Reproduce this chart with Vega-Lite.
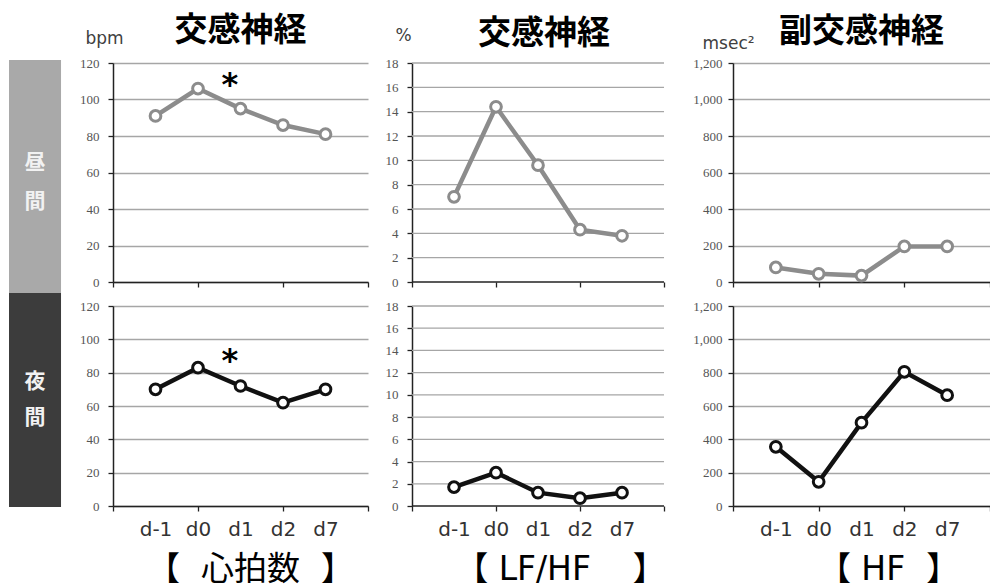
{
  "$schema": "https://vega.github.io/schema/vega-lite/v6.json",
  "padding": {"left": 9, "top": 15, "right": 0, "bottom": 0},
  "autosize": {"type": "pad"},
  "background": "white",
  "config": {
    "view": {"stroke": null},
    "font": "DejaVu Sans",
    "axis": {"domainColor": "#222", "domainWidth": 1.5, "tickColor": "#222", "tickWidth": 1.3, "tickSize": 5, "gridColor": "#a6a6a6", "gridWidth": 1.3, "labelOverlap": false, "tickCount": 30},
    "axisY": {"labelFont": "Liberation Serif", "labelFontSize": 13, "labelColor": "#555", "labelPadding": 9, "titleFont": "DejaVu Sans", "titleFontSize": 17, "titleFontWeight": "normal", "titleColor": "#404040", "titleAngle": 0, "titleAlign": "left", "titleBaseline": "middle"},
    "axisX": {"labelFont": "DejaVu Sans", "labelFontSize": 20, "labelColor": "#333", "labelPadding": 8, "grid": false, "labelFlush": false, "titleFont": "DejaVu Sans, Noto Sans CJK JP", "titleFontSize": 33, "titleFontWeight": "normal", "titleColor": "#000", "titlePadding": 14, "titleAlign": "center"},
    "title": {"font": "Noto Sans CJK JP", "fontSize": 33, "fontWeight": "bold", "color": "#000", "anchor": "middle", "baseline": "alphabetic", "frame": "group"}
  },
  "datasets": {
    "d": [
      {"m": "hr", "p": "day", "t": 1, "day": "d-1", "v": 91},
      {"m": "hr", "p": "day", "t": 2, "day": "d0", "v": 106},
      {"m": "hr", "p": "day", "t": 3, "day": "d1", "v": 95},
      {"m": "hr", "p": "day", "t": 4, "day": "d2", "v": 86},
      {"m": "hr", "p": "day", "t": 5, "day": "d7", "v": 81},
      {"m": "hr", "p": "night", "t": 1, "day": "d-1", "v": 70},
      {"m": "hr", "p": "night", "t": 2, "day": "d0", "v": 83},
      {"m": "hr", "p": "night", "t": 3, "day": "d1", "v": 72},
      {"m": "hr", "p": "night", "t": 4, "day": "d2", "v": 62},
      {"m": "hr", "p": "night", "t": 5, "day": "d7", "v": 70},
      {"m": "lf", "p": "day", "t": 1, "day": "d-1", "v": 7.0},
      {"m": "lf", "p": "day", "t": 2, "day": "d0", "v": 14.4},
      {"m": "lf", "p": "day", "t": 3, "day": "d1", "v": 9.6},
      {"m": "lf", "p": "day", "t": 4, "day": "d2", "v": 4.3},
      {"m": "lf", "p": "day", "t": 5, "day": "d7", "v": 3.8},
      {"m": "lf", "p": "night", "t": 1, "day": "d-1", "v": 1.7},
      {"m": "lf", "p": "night", "t": 2, "day": "d0", "v": 3.0},
      {"m": "lf", "p": "night", "t": 3, "day": "d1", "v": 1.2},
      {"m": "lf", "p": "night", "t": 4, "day": "d2", "v": 0.7},
      {"m": "lf", "p": "night", "t": 5, "day": "d7", "v": 1.2},
      {"m": "hf", "p": "day", "t": 1, "day": "d-1", "v": 80},
      {"m": "hf", "p": "day", "t": 2, "day": "d0", "v": 45},
      {"m": "hf", "p": "day", "t": 3, "day": "d1", "v": 35},
      {"m": "hf", "p": "day", "t": 4, "day": "d2", "v": 195},
      {"m": "hf", "p": "day", "t": 5, "day": "d7", "v": 195},
      {"m": "hf", "p": "night", "t": 1, "day": "d-1", "v": 355},
      {"m": "hf", "p": "night", "t": 2, "day": "d0", "v": 145},
      {"m": "hf", "p": "night", "t": 3, "day": "d1", "v": 500},
      {"m": "hf", "p": "night", "t": 4, "day": "d2", "v": 805},
      {"m": "hf", "p": "night", "t": 5, "day": "d7", "v": 665}
    ],
    "lfgrid": [{"g": 2}, {"g": 4}, {"g": 6}, {"g": 8}, {"g": 10}, {"g": 12}, {"g": 14}, {"g": 16}, {"g": 18}],
    "stars": [
      {"p": "day", "t": 2.75, "v": 108, "s": "*"},
      {"p": "night", "t": 2.75, "v": 87, "s": "*"}
    ],
    "bars": [
      {"p": "day", "x0": 0, "x1": 0.867, "y0": -0.05, "y1": 1.014},
      {"p": "night", "x0": 0, "x1": 0.867, "y0": -0.005, "y1": 1.065}
    ],
    "bartext": [
      {"p": "day", "x": 0.433, "y": 0.543, "s": "昼"},
      {"p": "day", "x": 0.433, "y": 0.365, "s": "間"},
      {"p": "night", "x": 0.433, "y": 0.62, "s": "夜"},
      {"p": "night", "x": 0.433, "y": 0.44, "s": "間"}
    ]
  },
  "bounds": "flush",
  "columns": 4,
  "spacing": {"row": 24, "column": 44},
  "concat": [
    {
      "width": 60, "height": 219,
      "layer": [
        {
          "data": {"name": "bars"},
          "transform": [{"filter": "datum.p === 'day'"}],
          "mark": {"type": "rect", "color": "#a9a9a9"},
          "encoding": {
            "x": {"field": "x0", "type": "quantitative", "scale": {"domain": [0, 1], "nice": false}, "axis": null},
            "x2": {"field": "x1"},
            "y": {"field": "y0", "type": "quantitative", "scale": {"domain": [0, 1], "nice": false}, "axis": null},
            "y2": {"field": "y1"}
          }
        },
        {
          "data": {"name": "bartext"},
          "transform": [{"filter": "datum.p === 'day'"}],
          "mark": {"type": "text", "font": "Noto Sans CJK JP", "fontSize": 21, "fontWeight": "bold", "color": "#f2f2f2", "baseline": "middle", "align": "center"},
          "encoding": {
            "x": {"field": "x", "type": "quantitative"},
            "y": {"field": "y", "type": "quantitative"},
            "text": {"field": "s"}
          }
        }
      ]
    },
    {
      "width": 255, "height": 219,
      "title": {"text": "交感神経", "frame": "group", "offset": -19},
      "layer": [
        {
          "data": {"name": "d"},
          "transform": [{"filter": "datum.m === 'hr' && datum.p === 'day'"}],
          "mark": {"type": "line", "color": "#8c8c8c", "strokeWidth": 4.5},
          "encoding": {
            "x": {"field": "t", "type": "quantitative", "scale": {"domain": [0, 6], "nice": false, "zero": false}, "axis": {"values": [0, 2, 4, 6], "labels": false, "title": null}},
            "y": {"field": "v", "type": "quantitative", "scale": {"domain": [0, 120], "nice": false}, "axis": {"values": [0, 20, 40, 60, 80, 100, 120], "format": "d", "tickCount": 30, "title": "bpm", "titleX": -28, "titleY": -25}}
          }
        },
        {
          "data": {"name": "d"},
          "transform": [{"filter": "datum.m === 'hr' && datum.p === 'day'"}],
          "mark": {"type": "point", "shape": "circle", "filled": true, "fill": "white", "stroke": "#8c8c8c", "strokeWidth": 3, "size": 115, "opacity": 1},
          "encoding": {
            "x": {"field": "t", "type": "quantitative"},
            "y": {"field": "v", "type": "quantitative"}
          }
        },
        {
          "data": {"name": "stars"},
          "transform": [{"filter": "datum.p === 'day'"}],
          "mark": {"type": "text", "font": "DejaVu Sans", "fontSize": 32, "fontWeight": "bold", "color": "#000", "baseline": "middle", "align": "center"},
          "encoding": {
            "x": {"field": "t", "type": "quantitative"},
            "y": {"field": "v", "type": "quantitative"},
            "text": {"field": "s"}
          }
        }
      ]
    },
    {
      "width": 277, "height": 219,
      "title": {"text": "交感神経", "anchor": "start", "dx": 66, "frame": "group", "offset": -25},
      "layer": [
        {
          "data": {"name": "lfgrid"},
          "mark": {"type": "rule", "color": "#a6a6a6", "strokeWidth": 1.3},
          "encoding": {
            "y": {"field": "g", "type": "quantitative"},
            "x": {"datum": 0},
            "x2": {"datum": 6}
          }
        },
        {
          "data": {"name": "lfgrid"},
          "transform": [{"filter": "datum.g === 2"}],
          "mark": {"type": "rule", "color": "#222", "strokeWidth": 1.5},
          "encoding": {
            "y": {"datum": 0},
            "x": {"datum": 0},
            "x2": {"datum": 6}
          }
        },
        {
          "data": {"name": "d"},
          "transform": [{"filter": "datum.m === 'lf' && datum.p === 'day'"}],
          "mark": {"type": "line", "color": "#8c8c8c", "strokeWidth": 4.5},
          "encoding": {
            "x": {"field": "t", "type": "quantitative", "scale": {"domain": [0, 6.595], "nice": false, "zero": false}, "axis": {"values": [0, 2, 4, 6], "labels": false, "title": null, "domain": false}},
            "y": {"field": "v", "type": "quantitative", "scale": {"domain": [0, 18], "nice": false}, "axis": {"values": [0, 2, 4, 6, 8, 10, 12, 14, 16, 18], "format": "d", "tickCount": 30, "grid": false, "title": "%", "titleX": -17, "titleY": -28}}
          }
        },
        {
          "data": {"name": "d"},
          "transform": [{"filter": "datum.m === 'lf' && datum.p === 'day'"}],
          "mark": {"type": "point", "shape": "circle", "filled": true, "fill": "white", "stroke": "#8c8c8c", "strokeWidth": 3, "size": 115, "opacity": 1},
          "encoding": {
            "x": {"field": "t", "type": "quantitative"},
            "y": {"field": "v", "type": "quantitative"}
          }
        }
      ]
    },
    {
      "width": 257, "height": 219,
      "title": {"text": "副交感神経", "frame": "group", "offset": -15},
      "layer": [
        {
          "data": {"name": "d"},
          "transform": [{"filter": "datum.m === 'hf' && datum.p === 'day'"}],
          "mark": {"type": "line", "color": "#8c8c8c", "strokeWidth": 4.5},
          "encoding": {
            "x": {"field": "t", "type": "quantitative", "scale": {"domain": [0, 6], "nice": false, "zero": false}, "axis": {"values": [0, 2, 4, 6], "labels": false, "title": null}},
            "y": {"field": "v", "type": "quantitative", "scale": {"domain": [0, 1200], "nice": false}, "axis": {"values": [0, 200, 400, 600, 800, 1000, 1200], "tickCount": 30, "format": ",.0f", "labelPadding": 6, "title": "msec²", "titleX": -31, "titleY": -20}}
          }
        },
        {
          "data": {"name": "d"},
          "transform": [{"filter": "datum.m === 'hf' && datum.p === 'day'"}],
          "mark": {"type": "point", "shape": "circle", "filled": true, "fill": "white", "stroke": "#8c8c8c", "strokeWidth": 3, "size": 115, "opacity": 1},
          "encoding": {
            "x": {"field": "t", "type": "quantitative"},
            "y": {"field": "v", "type": "quantitative"}
          }
        }
      ]
    },
    {
      "width": 60, "height": 200,
      "layer": [
        {
          "data": {"name": "bars"},
          "transform": [{"filter": "datum.p === 'night'"}],
          "mark": {"type": "rect", "color": "#3c3c3c"},
          "encoding": {
            "x": {"field": "x0", "type": "quantitative", "scale": {"domain": [0, 1], "nice": false}, "axis": null},
            "x2": {"field": "x1"},
            "y": {"field": "y0", "type": "quantitative", "scale": {"domain": [0, 1], "nice": false}, "axis": null},
            "y2": {"field": "y1"}
          }
        },
        {
          "data": {"name": "bartext"},
          "transform": [{"filter": "datum.p === 'night'"}],
          "mark": {"type": "text", "font": "Noto Sans CJK JP", "fontSize": 21, "fontWeight": "bold", "color": "#f2f2f2", "baseline": "middle", "align": "center"},
          "encoding": {
            "x": {"field": "x", "type": "quantitative"},
            "y": {"field": "y", "type": "quantitative"},
            "text": {"field": "s"}
          }
        }
      ]
    },
    {
      "width": 255, "height": 200,
      "layer": [
        {
          "data": {"name": "d"},
          "transform": [{"filter": "datum.m === 'hr' && datum.p === 'night'"}],
          "mark": {"type": "line", "color": "#111", "strokeWidth": 4.5},
          "encoding": {
            "x": {"field": "t", "type": "quantitative", "scale": {"domain": [0, 6], "nice": false, "zero": false}, "axis": {"values": [0, 1, 2, 3, 4, 5, 6], "labelExpr": "['', 'd-1', 'd0', 'd1', 'd2', 'd7', ''][datum.value]", "tickOpacity": {"condition": {"test": "datum.value % 2 === 1", "value": 0}, "value": 1}, "title": "【\u00a0\u00a0心拍数\u00a0\u00a0】", "titleX": 137}},
            "y": {"field": "v", "type": "quantitative", "scale": {"domain": [0, 120], "nice": false}, "axis": {"values": [0, 20, 40, 60, 80, 100, 120], "format": "d", "tickCount": 30, "title": null}}
          }
        },
        {
          "data": {"name": "d"},
          "transform": [{"filter": "datum.m === 'hr' && datum.p === 'night'"}],
          "mark": {"type": "point", "shape": "circle", "filled": true, "fill": "white", "stroke": "#111", "strokeWidth": 3, "size": 115, "opacity": 1},
          "encoding": {
            "x": {"field": "t", "type": "quantitative"},
            "y": {"field": "v", "type": "quantitative"}
          }
        },
        {
          "data": {"name": "stars"},
          "transform": [{"filter": "datum.p === 'night'"}],
          "mark": {"type": "text", "font": "DejaVu Sans", "fontSize": 32, "fontWeight": "bold", "color": "#000", "baseline": "middle", "align": "center"},
          "encoding": {
            "x": {"field": "t", "type": "quantitative"},
            "y": {"field": "v", "type": "quantitative"},
            "text": {"field": "s"}
          }
        }
      ]
    },
    {
      "width": 277, "height": 200,
      "layer": [
        {
          "data": {"name": "lfgrid"},
          "mark": {"type": "rule", "color": "#a6a6a6", "strokeWidth": 1.3},
          "encoding": {
            "y": {"field": "g", "type": "quantitative"},
            "x": {"datum": 0},
            "x2": {"datum": 6}
          }
        },
        {
          "data": {"name": "lfgrid"},
          "transform": [{"filter": "datum.g === 2"}],
          "mark": {"type": "rule", "color": "#222", "strokeWidth": 1.5},
          "encoding": {
            "y": {"datum": 0},
            "x": {"datum": 0},
            "x2": {"datum": 6}
          }
        },
        {
          "data": {"name": "d"},
          "transform": [{"filter": "datum.m === 'lf' && datum.p === 'night'"}],
          "mark": {"type": "line", "color": "#111", "strokeWidth": 4.5},
          "encoding": {
            "x": {"field": "t", "type": "quantitative", "scale": {"domain": [0, 6.595], "nice": false, "zero": false}, "axis": {"values": [0, 1, 2, 3, 4, 5, 6], "domain": false, "labelExpr": "['', 'd-1', 'd0', 'd1', 'd2', 'd7', ''][datum.value]", "tickOpacity": {"condition": {"test": "datum.value % 2 === 1", "value": 0}, "value": 1}, "title": "【\u00a0LF/HF\u00a0\u00a0\u00a0\u00a0】", "titleX": 148}},
            "y": {"field": "v", "type": "quantitative", "scale": {"domain": [0, 18], "nice": false}, "axis": {"values": [0, 2, 4, 6, 8, 10, 12, 14, 16, 18], "format": "d", "tickCount": 30, "grid": false, "title": null}}
          }
        },
        {
          "data": {"name": "d"},
          "transform": [{"filter": "datum.m === 'lf' && datum.p === 'night'"}],
          "mark": {"type": "point", "shape": "circle", "filled": true, "fill": "white", "stroke": "#111", "strokeWidth": 3, "size": 115, "opacity": 1},
          "encoding": {
            "x": {"field": "t", "type": "quantitative"},
            "y": {"field": "v", "type": "quantitative"}
          }
        }
      ]
    },
    {
      "width": 257, "height": 200,
      "layer": [
        {
          "data": {"name": "d"},
          "transform": [{"filter": "datum.m === 'hf' && datum.p === 'night'"}],
          "mark": {"type": "line", "color": "#111", "strokeWidth": 4.5},
          "encoding": {
            "x": {"field": "t", "type": "quantitative", "scale": {"domain": [0, 6], "nice": false, "zero": false}, "axis": {"values": [0, 1, 2, 3, 4, 5, 6], "labelExpr": "['', 'd-1', 'd0', 'd1', 'd2', 'd7', ''][datum.value]", "tickOpacity": {"condition": {"test": "datum.value % 2 === 1", "value": 0}, "value": 1}, "title": "【\u00a0HF\u00a0\u00a0】", "titleX": 155}},
            "y": {"field": "v", "type": "quantitative", "scale": {"domain": [0, 1200], "nice": false}, "axis": {"values": [0, 200, 400, 600, 800, 1000, 1200], "tickCount": 30, "format": ",.0f", "labelPadding": 6, "title": null}}
          }
        },
        {
          "data": {"name": "d"},
          "transform": [{"filter": "datum.m === 'hf' && datum.p === 'night'"}],
          "mark": {"type": "point", "shape": "circle", "filled": true, "fill": "white", "stroke": "#111", "strokeWidth": 3, "size": 115, "opacity": 1},
          "encoding": {
            "x": {"field": "t", "type": "quantitative"},
            "y": {"field": "v", "type": "quantitative"}
          }
        }
      ]
    }
  ]
}
